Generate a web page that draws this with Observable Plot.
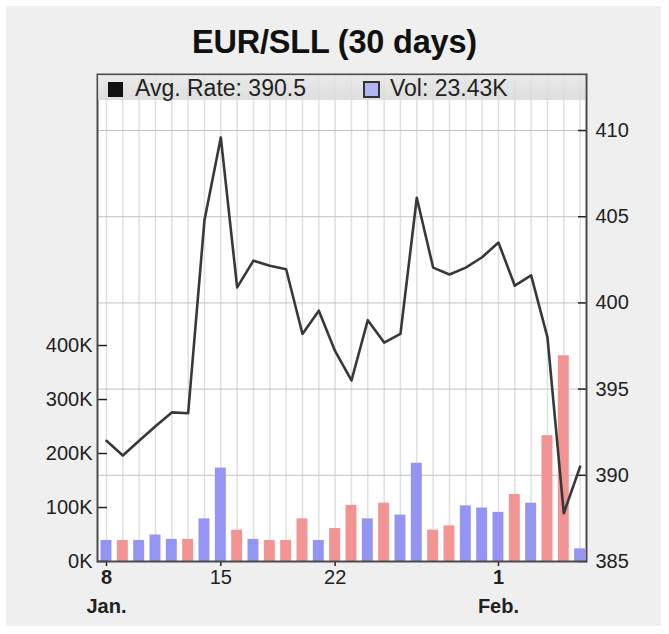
<!DOCTYPE html>
<html>
<head>
<meta charset="utf-8">
<script src="https://cdn.jsdelivr.net/npm/d3@7"></script>
<script src="https://cdn.jsdelivr.net/npm/@observablehq/plot@0.6"></script>
<style>
  body { margin: 0; background: #fff; }
  #wrap { position: relative; width: 669px; height: 634px; overflow: hidden; }
  #panel { position: absolute; left: 6px; top: 6px; right: 8px; bottom: 8px; background: #efefef; }
  #title { position: absolute; left: 0; width: 669px; top: 24px; line-height: 32px; text-align: center;
           font: bold 32.5px "Liberation Sans", Arial, sans-serif; color: #111; letter-spacing: -0.2px; }
  .layer { position: absolute; left: 0; top: 0; }
  #legend { position: absolute; left: 98px; top: 75px; width: 487px; height: 25px;
            background: linear-gradient(rgba(230,230,230,0.85), rgba(216,216,216,0.85));
            font: 23px "Liberation Sans", Arial, sans-serif; color: #222; }
  #legend span { position: absolute; top: 0; line-height: 25px; white-space: nowrap; }
  .sw { position: absolute; box-sizing: border-box; }
</style>
</head>
<body>
<div id="wrap">
  <div id="panel"></div>
  <div id="title">EUR/SLL (30 days)</div>
  <div id="layers"></div>
  <div id="legend">
    <div class="sw" style="left:10px;top:7px;width:15px;height:15px;background:#111;"></div>
    <span style="left:37px;top:1px;">Avg. Rate: 390.5</span>
    <div class="sw" style="left:265px;top:6px;width:17px;height:17px;background:#b4b4f2;border:2px solid #333;"></div>
    <span style="left:292px;top:1px;">Vol: 23.43K</span>
  </div>
</div>
<script>
// ---- data ----
const dates = ["2014-01-08","2014-01-09","2014-01-10","2014-01-11","2014-01-12","2014-01-13","2014-01-14",
  "2014-01-15","2014-01-16","2014-01-17","2014-01-18","2014-01-19","2014-01-20","2014-01-21","2014-01-22",
  "2014-01-23","2014-01-24","2014-01-25","2014-01-26","2014-01-27","2014-01-28","2014-01-29","2014-01-30",
  "2014-01-31","2014-02-01","2014-02-02","2014-02-03","2014-02-04","2014-02-05","2014-02-06"];
const rates = [392.0, 391.15, 392.0, 392.85, 393.65, 393.6, 404.8, 409.6, 400.9, 402.45, 402.15, 401.95, 398.2,
  399.55, 397.2, 395.5, 399.0, 397.7, 398.2, 406.1, 402.05, 401.65, 402.05, 402.65, 403.5, 401.0, 401.6, 398.0,
  387.8, 390.5];
const volumes = [39000, 39000, 39000, 49000, 41000, 41000, 79000, 173000, 58000, 41000, 39000, 39000, 79000,
  39000, 61000, 104000, 79000, 108000, 86000, 182000, 58000, 66000, 103000, 99000, 91000, 124000, 108000,
  233000, 381000, 23430];
// +1 = rate up (blue bar), -1 = rate down (red bar)
const direction = [1, -1, 1, 1, 1, -1, 1, 1, -1, 1, -1, -1, -1, 1, -1, -1, 1, -1, 1, 1, -1, -1, 1, 1, 1, -1, 1, -1, -1, 1];
const rateTicks = [385, 390, 395, 400, 405, 410];
const rateGrid = [390, 395, 400, 405, 410];
const volTicks = [0, 100000, 200000, 300000, 400000];
const dayTicksPlain = ["2014-01-15", "2014-01-22"];
const dayTicksBold = ["2014-01-08", "2014-02-01"];
const monthLabels = {"2014-01-08": "Jan.", "2014-02-01": "Feb."};

// ---- build ----
const parse = d3.utcParse("%Y-%m-%d");
const fmtKey = d3.utcFormat("%Y-%m-%d");
const DAY = 864e5;
const data = dates.map((s, i) => ({date: parse(s), rate: rates[i], vol: volumes[i], dir: direction[i]}));
const xDomain = [new Date(+parse("2014-01-08") - 0.55 * DAY), new Date(+parse("2014-02-06") + 0.39 * DAY)];
const BLUE = "#9494f2", RED = "#f29494";

const common = {
  width: 669, height: 634,
  marginTop: 74, marginRight: 83, marginBottom: 73, marginLeft: 97,
  style: {background: "transparent", fontFamily: "'Liberation Sans', Arial, sans-serif", fontSize: "20px", color: "#222", overflow: "visible"}
};

const gridPlot = Plot.plot({
  ...common,
  x: {type: "utc", domain: xDomain, axis: null},
  y: {domain: [385, 413.25], axis: null},
  marks: [
    Plot.frame({fill: "#fff"}),
    Plot.ruleX(data, {x: "date", stroke: "#e0e0e0", strokeWidth: 1.5}),
    Plot.ruleY(rateGrid, {y: d => d, stroke: "#c2c2c2", strokeWidth: 1}),
    Plot.axisY({anchor: "right", label: null, ticks: rateTicks, tickFormat: d => String(d), tickSize: 9, insetRight: 9, tickPadding: 9, strokeWidth: 1.5})
  ]
});

const volPlot = Plot.plot({
  ...common,
  x: {type: "utc", domain: xDomain, axis: null},
  y: {domain: [0, 902000], axis: null},
  color: {type: "identity"},
  marks: [
    Plot.rectY(data, {
      x1: d => new Date(+d.date - 0.335 * DAY),
      x2: d => new Date(+d.date + 0.335 * DAY),
      y: "vol",
      fill: d => d.dir > 0 ? BLUE : RED
    }),
    Plot.axisY({anchor: "left", label: null, ticks: volTicks, tickFormat: d => (d / 1000) + "K", tickSize: 10, insetLeft: 10, tickPadding: 5, strokeWidth: 1.5}),
    Plot.axisX({label: null, ticks: dayTicksPlain.map(parse), tickFormat: d3.utcFormat("%-d"), tickSize: 5, tickPadding: 3, strokeWidth: 1.5}),
    Plot.axisX({label: null, ticks: dayTicksBold.map(parse), tickFormat: d3.utcFormat("%-d"), tickSize: 5, tickPadding: 3, fontWeight: "bold", strokeWidth: 1.5}),
    Plot.axisX({label: null, ticks: dayTicksBold.map(parse), tickFormat: d => monthLabels[fmtKey(d)], tickSize: 0, tickPadding: 37, fontWeight: "bold"})
  ]
});

const linePlot = Plot.plot({
  ...common,
  x: {type: "utc", domain: xDomain, axis: null},
  y: {domain: [385, 413.25], axis: null},
  marks: [
    Plot.line(data, {x: "date", y: "rate", stroke: "#383838", strokeWidth: 2.6}),
    Plot.frame({stroke: "#4a4a4a", strokeWidth: 2})
  ]
});

const layers = document.getElementById("layers");
for (const p of [gridPlot, volPlot, linePlot]) {
  p.classList.add("layer");
  layers.appendChild(p);
}
</script>
</body>
</html>
